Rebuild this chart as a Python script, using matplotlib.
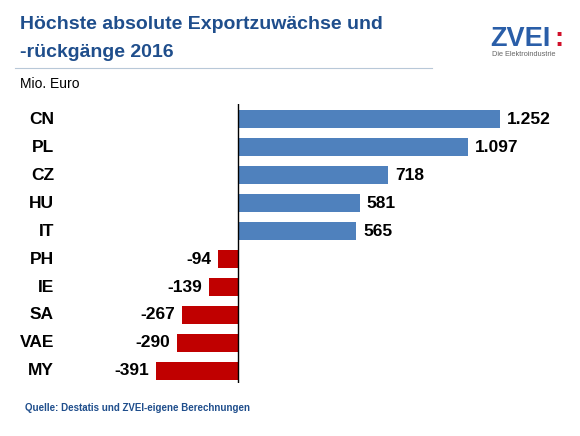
import matplotlib
matplotlib.use('Agg')
import matplotlib.pyplot as plt
import matplotlib.transforms as mtransforms
from matplotlib.lines import Line2D

plt.rcParams['font.family'] = ['Liberation Sans', 'DejaVu Sans']

laender = ['CN', 'PL', 'CZ', 'HU', 'IT', 'PH', 'IE', 'SA', 'VAE', 'MY']
werte = [1252, 1097, 718, 581, 565, -94, -139, -267, -290, -391]
labels = ['1.252', '1.097', '718', '581', '565', '-94', '-139', '-267', '-290', '-391']

blau = '#4f81bd'
rot = '#c00000'
titelblau = '#1f4e8c'

fig = plt.figure(figsize=(5.8, 4.36), dpi=100)
fig.patch.set_facecolor('white')

# Achse: x 150..520 px, y 104..383 px
ax = fig.add_axes([150 / 580, 1 - 383 / 436, 370 / 580, 279 / 436])
pos = list(range(len(laender)))
farben = [blau if v >= 0 else rot for v in werte]
ax.barh(pos, werte, height=0.65, color=farben)
ax.set_xlim(-420.4, 1347)
ax.set_ylim(9.43, -0.54)
ax.axvline(0, color='black', lw=1)
ax.axis('off')

for i, (v, lab) in enumerate(zip(werte, labels)):
    if v >= 0:
        ax.annotate(lab, (v, i), xytext=(5, 0), textcoords='offset points',
                    ha='left', va='center', fontsize=12.5, fontweight='bold')
    else:
        ax.annotate(lab, (v, i), xytext=(-5, 0), textcoords='offset points',
                    ha='right', va='center', fontsize=12.5, fontweight='bold')

# Laenderbeschriftung
trans = mtransforms.blended_transform_factory(fig.transFigure, ax.transData)
for i, land in enumerate(laender):
    ax.text(54 / 580, i, land, transform=trans, ha='right', va='center',
            fontsize=12.5, fontweight='bold')

# Titel
fig.text(20 / 580, 1 - 29 / 436, 'Höchste absolute Exportzuwächse und',
         ha='left', va='baseline', fontsize=14, fontweight='bold', color=titelblau)
fig.text(20 / 580, 1 - 57 / 436, '-rückgänge 2016',
         ha='left', va='baseline', fontsize=14, fontweight='bold', color=titelblau)
fig.add_artist(Line2D([15 / 580, 432 / 580], [1 - 68 / 436, 1 - 68 / 436],
                      color='#b8c8d8', lw=0.8))
fig.text(20 / 580, 1 - 88 / 436, 'Mio. Euro', ha='left', va='baseline', fontsize=10)

# Logo
fig.text(490 / 580, 1 - 46 / 436, 'ZVEI', ha='left', va='baseline', fontsize=19.5,
         fontweight='bold', color='#2a5ea8')
fig.text(554 / 580, 1 - 46 / 436, ':', ha='left', va='baseline', fontsize=19.5,
         fontweight='bold', color='#d0102a')
fig.text(492 / 580, 1 - 56 / 436, 'Die Elektroindustrie', ha='left', va='baseline',
         fontsize=5.3, color='#666666')

fig.text(25 / 580, 1 - 408 / 436, 'Quelle: Destatis und ZVEI-eigene Berechnungen',
         ha='left', va='center', fontsize=7, fontweight='bold', color=titelblau)

fig.savefig('out.png', dpi=100, facecolor='white')
